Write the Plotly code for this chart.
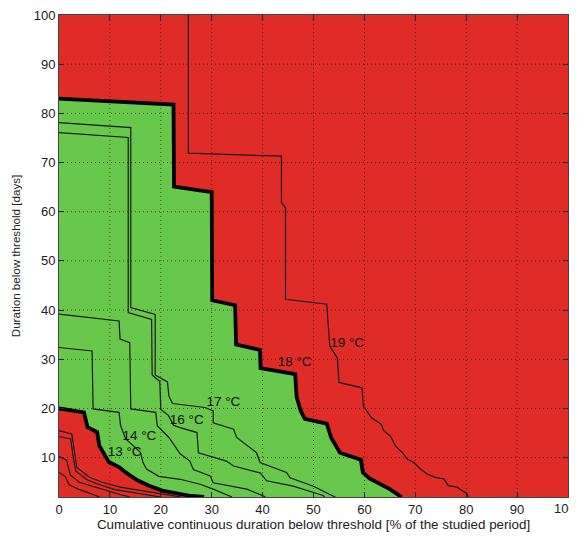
import plotly.graph_objects as go

# ---------------- data ----------------
x_ticks = [0, 10, 20, 30, 40, 50, 60, 70, 80, 90, 100]
y_ticks = [10, 20, 30, 40, 50, 60, 70, 80, 90, 100]

# 19 °C (thin)
t19_x = [25.4, 25.4, 43.7, 43.7, 44.5, 44.5, 52.6, 52.9, 53.2, 54.7, 55.0, 59.5, 59.8, 61.4, 63.3,
         63.8, 65.1, 66.1, 67.4, 68.4, 69.7, 71.0, 72.3, 73.9, 75.6, 76.5, 78.2, 79.2, 80.2, 80.4]
t19_y = [100, 71.9, 71.3, 61.8, 60.8, 42.2, 41.2, 36.8, 32.7, 30.2, 25.3, 24.2, 20.5, 18.1, 16.8,
         15.5, 14.4, 12.4, 11.1, 9.7, 9.0, 7.7, 6.7, 6.0, 5.7, 4.3, 4.0, 3.3, 2.6, 2.0]

# 18 °C (thick, upper limit)
t18_x = [0, 22.5, 22.6, 30.0, 30.1, 34.6, 34.8, 39.5, 39.6, 46.4, 46.7, 47.5, 48.3, 52.6, 53.5,
         55.2, 59.3, 59.7, 61.0, 63.0, 65.0, 67.3]
t18_y = [83.0, 81.8, 65.1, 64.0, 42.0, 41.0, 33.0, 31.9, 28.2, 27.0, 22.3, 19.5, 17.9, 16.9, 14.0,
         11.0, 9.6, 7.0, 5.8, 4.8, 3.6, 2.0]

# 17 °C
t17_x = [0, 14.1, 14.1, 18.9, 18.9, 21.3, 21.6, 22.3, 28.7, 30.3, 30.3, 34.3, 34.9, 38.8, 39.5,
         44.7, 45.4, 50.0, 53.2, 54.3]
t17_y = [78.1, 77.1, 40.5, 39.1, 26.8, 25.4, 22.5, 21.0, 20.2, 19.5, 17.1, 15.8, 14.1, 11.0, 9.0,
         7.0, 5.9, 4.2, 2.5, 2.0]

# 16 °C
t16_x = [0, 13.6, 13.6, 18.2, 18.3, 19.8, 20.0, 21.5, 22.5, 23.8, 27.1, 27.4, 32.9, 34.3, 39.5,
         40.8, 46.0, 51.9, 52.2]
t16_y = [76.1, 75.1, 39.5, 38.1, 26.8, 25.5, 19.8, 18.6, 16.6, 16.1, 15.1, 11.0, 9.3, 8.3, 6.9,
         5.3, 4.2, 2.3, 2.0]

# 15 °C
t15_x = [0, 11.8, 12.0, 13.9, 14.1, 19.0, 19.3, 21.6, 23.8, 25.7, 26.4, 29.7, 30.3, 36.9, 40.2, 40.5]
t15_y = [39.2, 37.8, 34.1, 33.4, 19.9, 19.2, 16.5, 14.1, 10.8, 9.3, 7.6, 6.3, 4.9, 3.6, 2.2, 2.0]

# 14 °C
t14_x = [0, 6.5, 6.7, 11.8, 12.1, 13.1, 16.0, 16.5, 17.2, 19.6, 23.8, 27.7, 30.3, 33.6, 34.0]
t14_y = [32.4, 31.7, 19.9, 19.2, 16.5, 13.8, 11.1, 9.0, 7.7, 6.2, 5.6, 4.6, 3.6, 2.2, 2.0]

# 13 °C (thick, lower limit)
t13_x = [0, 4.9, 5.6, 7.5, 7.9, 9.2, 9.8, 11.8, 13.1, 15.4, 17.7, 20.3, 25.5, 28.5]
t13_y = [20.0, 19.2, 16.2, 15.2, 12.5, 10.4, 9.1, 8.1, 7.0, 5.4, 4.3, 3.3, 2.3, 2.0]

# lower thresholds (thin, inside the lower red zone)
t12_x = [0, 2.5, 3.0, 3.5, 6.0, 8.5, 12.0, 18.0, 24.0]
t12_y = [15.5, 14.8, 11.5, 8.0, 6.0, 5.0, 4.0, 3.0, 2.0]
t11_x = [0, 2.3, 2.8, 3.3, 5.5, 8.0, 11.0, 16.0, 20.0]
t11_y = [14.3, 13.8, 10.0, 7.3, 5.5, 4.5, 3.5, 2.6, 2.0]
t10_x = [0, 1.5, 2.2, 4.0, 6.5, 9.5, 12.0, 14.0]
t10_y = [10.2, 9.5, 6.5, 5.0, 4.2, 3.2, 2.5, 2.0]
t9_x = [0, 1.2, 2.0, 4.0, 6.0, 8.0]
t9_y = [7.0, 6.2, 4.5, 3.5, 2.8, 2.0]

label_text = ["19 °C", "18 °C", "17 °C", "16 °C", "14 °C", "13 °C"]
label_x = [56.6, 46.3, 32.3, 25.1, 15.8, 12.9]
label_y = [33.1, 29.4, 21.1, 17.6, 14.2, 11.0]

# ---------------- styling ----------------
RED = "#e02c27"
GREEN = "#67c84b"
FONT = "Liberation Sans, Arial, sans-serif"
TICK_COLOR = "#222222"
X_MIN, X_MAX, Y_MIN, Y_MAX = 0, 100, 2, 100

fig = go.Figure()

# green acceptable zone between the two thick curves
poly_x = t18_x + t13_x[::-1]
poly_y = t18_y + t13_y[::-1]
fig.add_trace(go.Scatter(x=poly_x, y=poly_y, mode="lines", fill="toself",
                         fillcolor=GREEN, line=dict(width=0), hoverinfo="skip",
                         showlegend=False))

# dotted grid drawn above the fill (as in the original)
gx, gy = [], []
for v in x_ticks[1:-1]:
    gx += [v, v, None]
    gy += [Y_MIN, Y_MAX, None]
for v in y_ticks[:-1]:
    gx += [X_MIN, X_MAX, None]
    gy += [v, v, None]
fig.add_trace(go.Scatter(x=gx, y=gy, mode="lines",
                         line=dict(color="rgba(50,0,0,0.6)", width=1, dash="1px,3px"),
                         hoverinfo="skip", showlegend=False))

thin = [(t19_x, t19_y), (t17_x, t17_y), (t16_x, t16_y), (t15_x, t15_y), (t14_x, t14_y),
        (t12_x, t12_y), (t11_x, t11_y), (t10_x, t10_y), (t9_x, t9_y)]
for xs, ys in thin:
    fig.add_trace(go.Scatter(x=xs, y=ys, mode="lines",
                             line=dict(color="#1a1a1a", width=1.2),
                             hoverinfo="skip", showlegend=False))

for xs, ys in [(t18_x, t18_y), (t13_x, t13_y)]:
    fig.add_trace(go.Scatter(x=xs, y=ys, mode="lines",
                             line=dict(color="#000000", width=3.8),
                             hoverinfo="skip", showlegend=False))

fig.add_trace(go.Scatter(x=label_x, y=label_y, mode="text", text=label_text,
                         textfont=dict(family=FONT, size=13.5, color="#111111"),
                         hoverinfo="skip", showlegend=False))

axis_common = dict(showgrid=False, zeroline=False, showline=True, linecolor="#444444",
                   linewidth=1, mirror="ticks", ticks="inside", ticklen=5,
                   tickcolor=TICK_COLOR, automargin=False, ticklabeloverflow="allow",
                   tickfont=dict(family=FONT, size=13, color=TICK_COLOR))

# x tick labels: the last one ("100") sits at the right window edge, so it is
# drawn as an annotation nudged a few pixels inward to stay fully visible
x_ticktext = [str(v) for v in x_ticks[:-1]] + [""]

# the page body adds an 8px offset, so the figure is 8px smaller than the window
fig.update_layout(
    width=569, height=528,
    margin=dict(l=51, r=9, t=7, b=39),
    paper_bgcolor="white", plot_bgcolor=RED,
    xaxis=dict(range=[X_MIN, X_MAX], tickvals=x_ticks, ticktext=x_ticktext, **axis_common,
               title=dict(text="Cumulative continuous duration below threshold [% of the studied period]",
                          font=dict(family=FONT, size=13.4, color=TICK_COLOR), standoff=3)),
    yaxis=dict(range=[Y_MIN, Y_MAX], tickvals=y_ticks, **axis_common,
               title=dict(text="Duration below threshold [days]",
                          font=dict(family=FONT, size=11.6, color=TICK_COLOR), standoff=10)),
)
fig.add_annotation(x=x_ticks[-1], xref="x", y=0, yref="paper", yanchor="top",
                   text=str(x_ticks[-1]), showarrow=False, xshift=-3, yshift=-2,
                   font=dict(family=FONT, size=13, color=TICK_COLOR))

fig.write_html("out.html")
